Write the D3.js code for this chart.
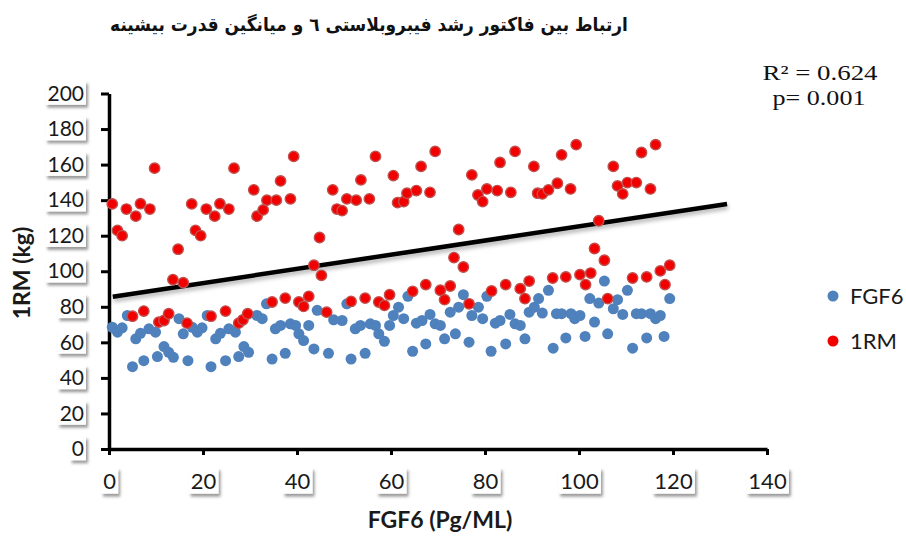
<!DOCTYPE html>
<html>
<head>
<meta charset="utf-8">
<script src="https://cdnjs.cloudflare.com/ajax/libs/d3/7.8.5/d3.min.js"></script>
<style>
	body { margin: 0; background: #fff; }
	svg { display: block; }
	.axis path, .axis line { stroke: #000; }
	.axis text { font-family: Lato, "Open Sans", sans-serif; fill: #1a1a1a; }
</style>
</head>
<body>
<div id="chart"></div>
<script>
var titleText = "ارتباط بین فاکتور رشد فیبروبلاستی ٦ و میانگین قدرت بیشینه";
var statLines = ["R² = 0.624", "p= 0.001"];
var xTicks = [0, 20, 40, 60, 80, 100, 120, 140];
var yTicks = [0, 20, 40, 60, 80, 100, 120, 140, 160, 180, 200];
var seriesNames = ["FGF6", "1RM"];

// FGF6 (blue)
var fgf6X = [0.7, 1.8, 2.8, 3.9, 5, 5.7, 6.7, 7.4, 8.5, 9.9, 10.3, 11.7, 12.7, 13.7, 14.9, 15.8, 16.8,
	17.7, 18.8, 19.8, 20.9, 21.7, 22.7, 23.7, 24.8, 25.5, 26.9, 27.6, 28.7, 29.7, 31.5, 32.6, 33.5,
	34.7, 35.4, 36.5, 37.5, 38.6, 39.7, 40.4, 41.4, 42.5, 43.6, 44.3, 46.7, 47.8, 49.6, 50.6, 51.5,
	52.4, 53.5, 54.5, 55.6, 56.7, 57.4, 58.6, 59.7, 60.5, 61.6, 62.7, 63.6, 64.6, 65.4, 66.6, 67.4,
	68.3, 69.4, 70.5, 71.4, 72.6, 73.7, 74.4, 75.4, 76.6, 77.2, 78.6, 79.5, 80.4, 81.3, 82.2, 83.2,
	84.4, 85.3, 86.4, 87.5, 88.5, 89.4, 90.5, 91.4, 92.2, 93.5, 94.5, 95.2, 96.3, 97.2, 98.3, 99.1,
	100.2, 101.3, 102.3, 103.3, 104.2, 105.4, 106.1, 107.3, 108.2, 109.3, 110.3, 111.4, 112.2, 113.3,
	114.4, 115.2, 116.3, 117.3, 118.1, 119.3];
var fgf6Y = [68.5, 65.7, 68.2, 75.1, 46.3, 62, 65.1, 49.7, 67.6, 65.7, 52, 57.6, 54.4, 51.6, 73.3, 64.8, 49.7,
	68.5, 65.7, 68.2, 75.1, 46.3, 62, 65.1, 49.7, 67.6, 65.7, 52, 57.6, 54.4, 75.1, 73.3, 81.7,
	50.6, 67.6, 69.5, 53.8, 70.4, 69.5, 64.8, 61, 69.5, 56.3, 78, 53.8, 72.7, 72.3, 81.7, 50.6,
	67.6, 69.5, 53.8, 70.4, 69.5, 64.8, 60.6, 69.5, 75.1, 79.8, 73.3, 85.9, 55, 70.8, 72.3, 59.1,
	75.7, 70.4, 69.5, 62, 77, 64.8, 79.8, 86.8, 60.1, 75.1, 79.8, 73.3, 85.9, 55, 70.8, 72.3,
	59.1, 75.7, 70.4, 69.5, 62, 77, 79.8, 84.6, 76.5, 89.3, 56.7, 76.1, 76.1, 62.5, 76.1, 73.3,
	75.1, 63.3, 84.6, 71.4, 82.1, 94.5, 64.8, 78.9, 84, 75.7, 89.3, 56.7, 76.1, 76.1,
	62.5, 76.1, 73.3, 75.1, 63.3, 84.6];

// 1RM (red)
var rmX = [0.7, 1.8, 2.8, 3.7, 5.7, 6.7, 8.7, 9.7, 13.6, 14.7, 15.8, 17.6, 18.4, 19.5, 20.7, 22.5, 23.6,
	25.5, 26.6, 30.8, 31.5, 32.8, 33.6, 35.6, 36.5, 38.6, 39.3, 43.6, 44.8, 45.2, 47.6, 48.5, 49.6,
	50.6, 52.6, 53.6, 55.4, 56.7, 60.5, 61.4, 62.7, 63.4, 65.4, 66.4, 68.3, 69.4, 73.4, 74.4, 75.4,
	77.2, 78.5, 79.5, 80.4, 82.6, 83.2, 85.5, 86.4, 90.4, 91.2, 92.2, 93.5, 95.4, 96.3, 98.2, 99.4,
	103.3, 104.2, 105.4, 107.3, 108.2, 109.3, 110.3, 112.2, 113.3, 115.2, 116.3,
	5, 7.4, 10.6, 11.7, 12.7, 16.6, 21.7, 24.8, 27.6, 28.5, 29.5, 34.7, 37.5, 40.4, 41.4, 42.5,
	46.3, 51.5, 54.5, 57.4, 58.6, 59.7, 64.6, 67.4, 70.5, 71.4, 72.6, 76.6, 81.4, 84.4, 87.5, 88.5,
	89.4, 94.4, 97.2, 100.2, 101.4, 102.5, 106.1, 111.4, 114.4, 117.3, 118.3, 119.3];
var rmY = [137.9, 123, 120, 135, 131, 138, 135, 158, 95.3, 112.4, 93.6, 137.9, 123, 120, 135, 131, 138,
	135, 158, 145.8, 131, 134.5, 140, 140, 150.8, 140.7, 164.6, 103.4, 119, 97.7, 145.8, 135, 134.1,
	140.7, 140, 151.4, 140.7, 164.6, 153.8, 138.6, 139.2, 143.9, 145.4, 159, 144.4, 167.4, 107.7, 123.5, 102.4,
	154.2, 142.9, 139.2, 146.3, 145.4, 161.2, 144.4, 167.4, 159, 143.9, 143.5, 145.8, 149.5, 165.5, 146.3, 171.2,
	112.8, 128.4, 106.2, 159, 148, 143.5, 149.9, 149.9, 166.8, 146.3, 171.2,
	74.7, 77.6, 71.4, 72.3, 76.1, 70.8, 74.7, 77.6, 70.8, 72.7, 76.1, 82.7, 84.9, 82.7, 80.2, 85.9,
	77, 83, 84.9, 82.7, 80.8, 86.8, 88.7, 92.5, 89.3, 84, 91.7, 81.7, 88.9, 92.5, 90.2, 84.6,
	94.5, 96.2, 96.8, 98.1, 92.5, 99, 84.6, 96.2, 96.8, 100.2, 92.5, 103.4];

// trend line end points
var trendX = [0.8, 131.5];
var trendY = [85.7, 137.8];

var width = 906,
	height = 537,
	margin = { top: 93.5, right: 139, bottom: 88, left: 109 },
	w = width - margin.left - margin.right,
	h = height - margin.top - margin.bottom;

var svg = d3.select('#chart').append('svg')
	.attr('width', width)
	.attr('height', height);

var defs = svg.append('defs');
defs.append('filter')
	.attr('id', 'labelShadow')
	.attr('x', '-30%').attr('y', '-30%').attr('width', '170%').attr('height', '170%')
	.append('feDropShadow')
	.attr('dx', 2).attr('dy', 3)
	.attr('stdDeviation', 1.6)
	.attr('flood-color', '#000')
	.attr('flood-opacity', 0.4);
defs.append('filter')
	.attr('id', 'lineShadow')
	.attr('x', '-10%').attr('y', '-100%').attr('width', '120%').attr('height', '300%')
	.append('feDropShadow')
	.attr('dx', 1).attr('dy', 3)
	.attr('stdDeviation', 2)
	.attr('flood-color', '#000')
	.attr('flood-opacity', 0.3);

var x = d3.scaleLinear().domain([0, 140]).range([0, w]);
var y = d3.scaleLinear().domain([0, 200]).range([h, 0]);

var g = svg.append('g').attr('transform', 'translate(' + margin.left + ',' + margin.top + ')');

function boxLabels(axisG) {
	axisG.selectAll('.tick').each(function() {
		var t = d3.select(this).select('text'),
			b = t.node().getBBox();
		d3.select(this).insert('rect', 'text')
			.attr('x', b.x - 2)
			.attr('y', b.y + 1)
			.attr('width', b.width + 4)
			.attr('height', b.height - 1)
			.attr('fill', '#fff')
			.attr('filter', 'url(#labelShadow)');
	});
}

var yAxisG = g.append('g')
	.attr('class', 'axis')
	.call(d3.axisLeft(y).tickValues(yTicks).tickSize(8).tickSizeOuter(0).tickPadding(17));
yAxisG.selectAll('text').style('font-size', '21px');

var xAxisG = g.append('g')
	.attr('class', 'axis')
	.attr('transform', 'translate(0,' + h + ')')
	.call(d3.axisBottom(x).tickValues(xTicks).tickSize(6).tickSizeOuter(0).tickPadding(18));
xAxisG.selectAll('text').style('font-size', '22px');

[yAxisG, xAxisG].forEach(function(a) {
	a.select('.domain').attr('stroke-width', 3.5);
	a.selectAll('.tick line').attr('stroke-width', 3);
	boxLabels(a);
});

// trend line
g.append('path')
	.datum(d3.zip(trendX, trendY))
	.attr('d', d3.line().x(function(d) { return x(d[0]); }).y(function(d) { return y(d[1]); }))
	.attr('fill', 'none')
	.attr('stroke', '#000')
	.attr('stroke-width', 4.5)
	.attr('filter', 'url(#lineShadow)');

// points
g.append('g').selectAll('circle')
	.data(d3.zip(fgf6X, fgf6Y))
	.enter().append('circle')
	.attr('cx', function(d) { return x(d[0]); })
	.attr('cy', function(d) { return y(d[1]); })
	.attr('r', 5.5)
	.attr('fill', '#4f81bd');

g.append('g').selectAll('circle')
	.data(d3.zip(rmX, rmY))
	.enter().append('circle')
	.attr('cx', function(d) { return x(d[0]); })
	.attr('cy', function(d) { return y(d[1]); })
	.attr('r', 5.2)
	.attr('fill', '#f20000')
	.attr('stroke', '#c0504d')
	.attr('stroke-width', 1.4);

// title, squeezed horizontally to the reference width
var titleG = svg.append('g');
var title = titleG.append('text')
	.attr('text-anchor', 'middle')
	.attr('direction', 'rtl')
	.style('font-family', '"DejaVu Sans", sans-serif')
	.style('font-weight', 'bold')
	.style('font-size', '19px')
	.attr('fill', '#111')
	.text(titleText);
var tw = title.node().getComputedTextLength();
titleG.attr('transform', 'translate(369,31) scale(' + (518 / tw) + ',1)');

// stats
var statWidths = [115, 93];
svg.selectAll('.stat')
	.data(statLines)
	.enter().append('text')
	.attr('class', 'stat')
	.attr('x', function(d, i) { return 820 - statWidths[i] / 2 + (i ? -1 : 0); })
	.attr('y', function(d, i) { return 80 + i * 24.5; })
	.attr('textLength', function(d, i) { return statWidths[i]; })
	.attr('lengthAdjust', 'spacingAndGlyphs')
	.style('font-family', '"Liberation Serif", "Times New Roman", serif')
	.style('font-size', '22px')
	.attr('fill', '#111')
	.text(function(d) { return d; });

// axis titles
svg.append('text')
	.attr('x', 440)
	.attr('y', 528)
	.attr('text-anchor', 'middle')
	.style('font-family', 'Lato, "Open Sans", sans-serif')
	.style('font-weight', 'bold')
	.style('font-size', '23px')
	.attr('fill', '#1a1a1a')
	.text('FGF6 (Pg/ML)');

svg.append('text')
	.attr('transform', 'translate(30,273) rotate(-90)')
	.attr('text-anchor', 'middle')
	.style('font-family', 'Lato, "Open Sans", sans-serif')
	.style('font-weight', 'bold')
	.style('font-size', '23px')
	.attr('fill', '#1a1a1a')
	.text('1RM (kg)');

// legend
var legend = svg.append('g').selectAll('g')
	.data(seriesNames)
	.enter().append('g')
	.attr('transform', function(d, i) { return 'translate(833,' + (296 + i * 45) + ')'; });
legend.append('circle')
	.attr('r', 5.5)
	.attr('fill', function(d, i) { return i ? '#f20000' : '#4f81bd'; });
legend.append('text')
	.attr('x', 17)
	.attr('dy', '0.36em')
	.style('font-family', 'Lato, "Open Sans", sans-serif')
	.style('font-size', '22px')
	.attr('fill', '#1a1a1a')
	.text(function(d) { return d; });
</script>
</body>
</html>
